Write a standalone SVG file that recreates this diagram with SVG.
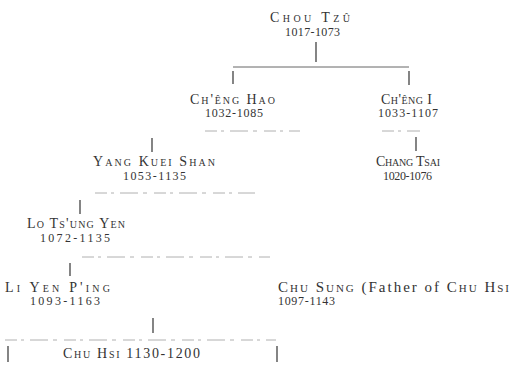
<svg xmlns="http://www.w3.org/2000/svg" width="509" height="373" viewBox="0 0 509 373">
<style>
  text { font-family: "Liberation Serif", "Times New Roman", serif; fill: #333; }
  .name { font-size: 14px; font-variant: small-caps; }
  .plain { font-variant: normal; }
  .date { font-size: 12px; }
  .line { stroke: #666; stroke-width: 1; fill: none; }
  .tick { stroke: #333; stroke-width: 1.2; fill: none; }
  .faint { stroke: #b0b0b0; stroke-width: 1; fill: none; stroke-dasharray: 12 4 3 6 18 5 4 7; }
</style>
<rect width="509" height="373" fill="#fff"/>
<g id="connectors">
  <line class="tick" x1="316" y1="42" x2="316" y2="62"/>
  <line class="line" x1="233" y1="67" x2="409" y2="67"/>
  <line class="tick" x1="233" y1="71" x2="233" y2="84"/>
  <line class="tick" x1="409" y1="71" x2="409" y2="85"/>
  <line class="faint" x1="205" y1="131" x2="300" y2="131"/>
  <line class="faint" x1="382" y1="131" x2="420" y2="131"/>
  <line class="tick" x1="152" y1="138" x2="152" y2="152"/>
  <line class="tick" x1="416" y1="137" x2="416" y2="151"/>
  <line class="faint" x1="95" y1="193" x2="255" y2="193"/>
  <line class="tick" x1="80" y1="200" x2="80" y2="214"/>
  <line class="faint" x1="82" y1="257" x2="270" y2="257"/>
  <line class="tick" x1="70" y1="263" x2="70" y2="276"/>
  <line class="tick" x1="153" y1="318" x2="153" y2="333"/>
  <line class="faint" x1="5" y1="340" x2="276" y2="340"/>
  <line class="tick" x1="8" y1="346" x2="8" y2="362"/>
  <line class="tick" x1="277" y1="346" x2="277" y2="362"/>
</g>
<g id="chou-tzu">
  <text class="name" x="270" y="22" textLength="80" lengthAdjust="spacing">Chou  Tzû</text>
  <text class="date" x="285" y="36" textLength="55" lengthAdjust="spacing">1017-1073</text>
</g>
<g id="cheng-hao">
  <text class="name" x="190" y="104" textLength="85" lengthAdjust="spacing">Ch'êng Hao</text>
  <text class="date" x="205" y="117" textLength="58" lengthAdjust="spacing">1032-1085</text>
</g>
<g id="cheng-i">
  <text class="name" x="381" y="104" textLength="51" lengthAdjust="spacing">Ch'êng I</text>
  <text class="date" x="378" y="117" textLength="60" lengthAdjust="spacing">1033-1107</text>
</g>
<g id="yang-kuei-shan">
  <text class="name" x="93" y="166" textLength="122" lengthAdjust="spacing">Yang Kuei Shan</text>
  <text class="date" x="123" y="180" textLength="63" lengthAdjust="spacing">1053-1135</text>
</g>
<g id="chang-tsai">
  <text class="name" x="376" y="166" textLength="64" lengthAdjust="spacing">Chang Tsai</text>
  <text class="date" x="383" y="180" textLength="49" lengthAdjust="spacing">1020-1076</text>
</g>
<g id="lo-tsung-yen">
  <text class="name" x="27" y="228" textLength="98" lengthAdjust="spacing">Lo Ts'ung Yen</text>
  <text class="date" x="40" y="242" textLength="70" lengthAdjust="spacing">1072-1135</text>
</g>
<g id="li-yen-ping">
  <text class="name" x="5" y="292" textLength="105" lengthAdjust="spacing">Li Yen P'ing</text>
  <text class="date" x="30" y="305" textLength="70" lengthAdjust="spacing">1093-1163</text>
</g>
<g id="chu-sung">
  <text class="name" x="278" y="292" textLength="231" lengthAdjust="spacing" style="font-size:15px">Chu Sung <tspan class="plain">(Father of</tspan> Chu Hsi</text>
  <text class="date" x="278" y="305" textLength="57" lengthAdjust="spacing">1097-1143</text>
</g>
<g id="chu-hsi">
  <text class="name" x="63" y="358" textLength="137" lengthAdjust="spacing">Chu Hsi 1130-1200</text>
</g>
</svg>
